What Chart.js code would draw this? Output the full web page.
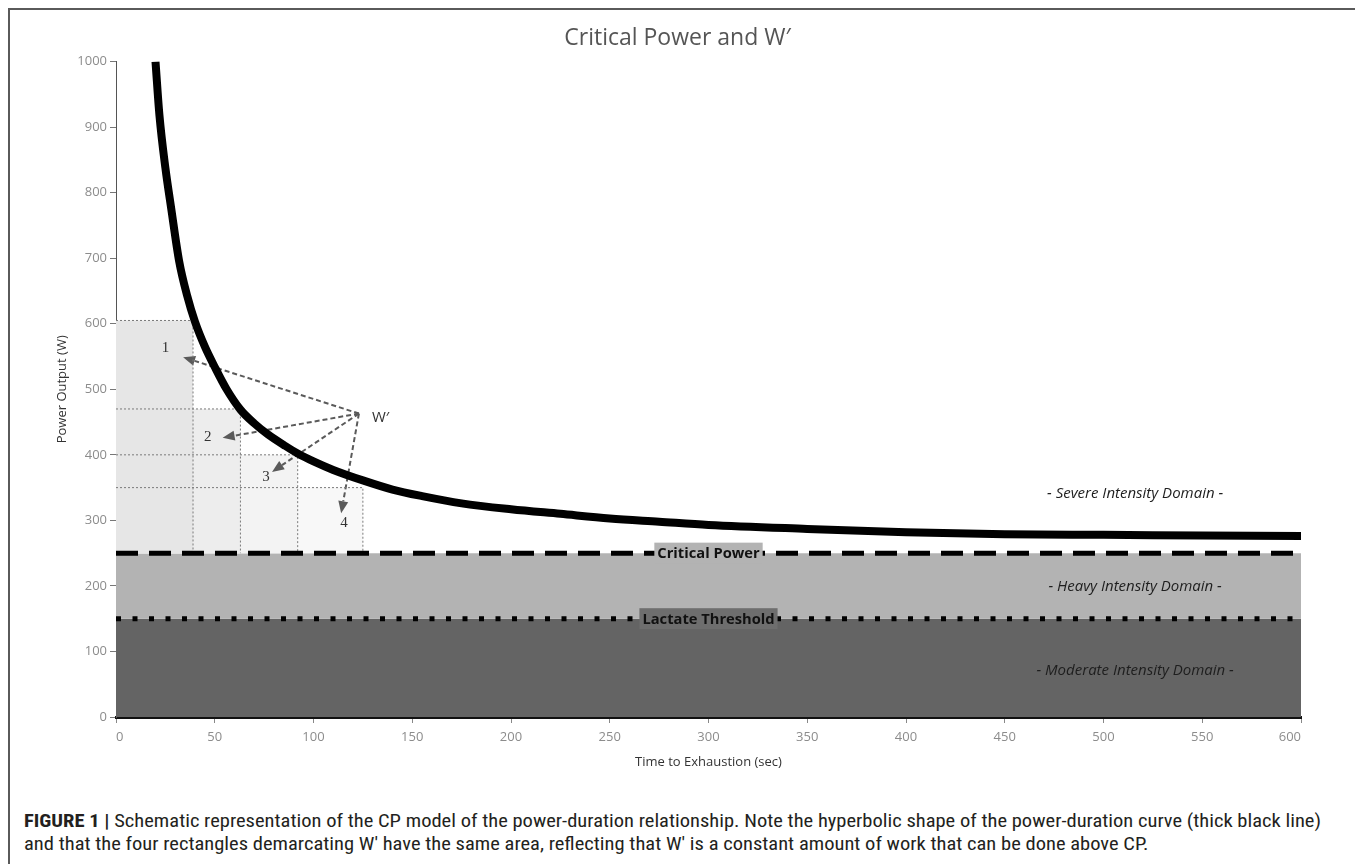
<!DOCTYPE html>
<html>
<head>
<meta charset="utf-8">
<title>Critical Power and W′</title>
<script src="https://cdn.jsdelivr.net/npm/chart.js@4.4.1/dist/chart.umd.min.js"></script>
<style>
    html, body { margin: 0; padding: 0; background: #fff; }
    body { width: 1355px; height: 864px; overflow: hidden; position: relative; }
    #frame { position: absolute; left: 8px; top: 8px; width: 1400px; height: 900px;
             border-top: 2px solid #5a5a5a; border-left: 2px solid #5a5a5a; }
    #wrap { position: absolute; left: 0; top: 0; width: 1355px; height: 780px; }
    #caption { position: absolute; left: 24px; top: 809px; white-space: nowrap;
               font-family: "Liberation Sans Narrow", "Roboto Condensed", Roboto, sans-serif;
               font-size: 18px; line-height: 23px; color: #231f20; transform-origin: 0 0; }
</style>
</head>
<body>
<div id="frame"></div>
<div id="wrap"><canvas id="cpChart" width="1355" height="780"></canvas></div>
<div id="caption">
    <span id="capLine1"><b>FIGURE 1 |</b> Schematic representation of the CP model of the power-duration relationship. Note the hyperbolic shape of the power-duration curve (thick black line)</span><br>
    <span id="capLine2">and that the four rectangles demarcating W′ have the same area, reflecting that W′ is a constant amount of work that can be done above CP.</span>
</div>
<script>
(function () {
    'use strict';

    var FONT = "'Open Sans', sans-serif";

    // power-duration curve
    var curveTime  = [20, 22, 25, 28, 32, 36, 40, 45, 50, 56, 63, 70, 77, 85, 92, 100, 110, 125, 140, 155, 175, 200, 225, 250, 275, 300, 350, 400, 450, 500, 550, 600];
    var curvePower = [1000, 918, 838, 775, 695, 643, 603, 565, 534, 500, 469, 448, 431, 415, 402, 390, 377, 361, 347, 337, 326, 317, 310, 303, 298, 293, 287, 282, 279, 278, 277, 276];

    var criticalPower = 250;
    var lactateThreshold = 150;
    var timeMin = 0, timeMax = 600;

    // the four W' rectangles (width in sec, height in W)
    var rectTime  = [39, 63, 92, 125];
    var rectPower = [605, 470, 400, 350];
    var rectShades = ['#e6e6e6', '#ededed', '#f3f3f3', '#f8f8f8'];

    // W' annotation
    var wLabel = 'W′';
    var wOriginTime = 123, wOriginPower = 463;
    var wLabelTime = 134, wLabelPower = 457;
    var arrowLabels = ['1', '2', '3', '4'];
    var arrowTipTime  = [34, 54, 79, 114];
    var arrowTipPower = [549, 426, 374, 311];
    var numberTime  = [25, 46.5, 76, 115.5];
    var numberPower = [563, 427, 366, 296];

    // domain texts
    var domainNames = ['- Severe Intensity Domain -', '- Heavy Intensity Domain -', '- Moderate Intensity Domain -'];
    var domainTime = 516;
    var domainPower = [340, 199, 70];
    var thresholdNames = ['Critical Power', 'Lactate Threshold'];
    var thresholdLabelTime = 300;

    function pts(xs, ys) {
        return xs.map(function (x, i) { return { x: x, y: ys[i] }; });
    }

    function flat(y) {
        return [{ x: timeMin, y: y }, { x: timeMax, y: y }];
    }

    var datasets = [
        {
            label: 'Power-duration curve',
            data: pts(curveTime, curvePower),
            borderColor: '#000',
            borderWidth: 8,
            pointRadius: 0,
            cubicInterpolationMode: 'monotone',
            fill: false,
            order: 0
        },
        {
            label: 'Critical Power',
            data: flat(criticalPower),
            borderColor: '#000',
            borderWidth: 5,
            borderDash: [22, 11],
            pointRadius: 0,
            fill: false,
            order: 1
        },
        {
            label: 'Lactate Threshold',
            data: flat(lactateThreshold),
            borderColor: '#000',
            borderWidth: 5,
            borderDash: [5, 11.5],
            pointRadius: 0,
            fill: false,
            order: 1
        },
        {
            label: 'Heavy',
            data: flat(criticalPower),
            borderWidth: 0,
            borderColor: 'rgba(0,0,0,0)',
            backgroundColor: '#b3b3b3',
            pointRadius: 0,
            fill: { value: lactateThreshold },
            order: 20
        },
        {
            label: 'Moderate',
            data: flat(lactateThreshold),
            borderWidth: 0,
            borderColor: 'rgba(0,0,0,0)',
            backgroundColor: '#646464',
            pointRadius: 0,
            fill: 'origin',
            order: 20
        }
    ];

    rectTime.forEach(function (t, i) {
        datasets.push({
            label: 'W\' rectangle ' + (i + 1),
            data: [{ x: 0, y: rectPower[i] }, { x: t, y: rectPower[i] }, { x: t, y: criticalPower }],
            borderColor: '#7a7a7a',
            borderWidth: 1,
            borderDash: [2, 2],
            backgroundColor: rectShades[i],
            pointRadius: 0,
            fill: { value: criticalPower },
            order: 10 + i
        });
    });

    function arrow(ctx, x0, y0, x1, y1) {
        var ang = Math.atan2(y1 - y0, x1 - x0);
        var head = 12, half = 5;
        var bx = x1 - Math.cos(ang) * head, by = y1 - Math.sin(ang) * head;
        ctx.save();
        ctx.strokeStyle = '#5a5a5a';
        ctx.fillStyle = '#5a5a5a';
        ctx.lineWidth = 2;
        ctx.setLineDash([5, 3]);
        ctx.beginPath();
        ctx.moveTo(x0, y0);
        ctx.lineTo(bx, by);
        ctx.stroke();
        ctx.setLineDash([]);
        ctx.beginPath();
        ctx.moveTo(x1, y1);
        ctx.lineTo(bx + Math.sin(ang) * half, by - Math.cos(ang) * half);
        ctx.lineTo(bx - Math.sin(ang) * half, by + Math.cos(ang) * half);
        ctx.closePath();
        ctx.fill();
        ctx.restore();
    }

    var annotations = {
        id: 'cpAnnotations',
        beforeDatasetsDraw: function (chart) {
            var ctx = chart.ctx, xs = chart.scales.x, ys = chart.scales.y;
            var ox = xs.getPixelForValue(wOriginTime), oy = ys.getPixelForValue(wOriginPower);
            arrowTipTime.forEach(function (t, i) {
                arrow(ctx, ox, oy, xs.getPixelForValue(t), ys.getPixelForValue(arrowTipPower[i]));
            });
            ctx.save();
            ctx.fillStyle = '#333';
            ctx.textAlign = 'center';
            ctx.textBaseline = 'middle';
            ctx.font = "15px 'Liberation Serif', serif";
            arrowLabels.forEach(function (lab, i) {
                ctx.fillText(lab, xs.getPixelForValue(numberTime[i]), ys.getPixelForValue(numberPower[i]));
            });
            ctx.font = '15px ' + FONT;
            ctx.fillText(wLabel, xs.getPixelForValue(wLabelTime), ys.getPixelForValue(wLabelPower));
            ctx.restore();
        },
        afterDatasetsDraw: function (chart) {
            var ctx = chart.ctx, xs = chart.scales.x, ys = chart.scales.y;
            ctx.save();
            ctx.textAlign = 'center';
            ctx.textBaseline = 'middle';

            ctx.font = 'bold 14.7px ' + FONT;
            var boxFill = ['#b3b3b3', '#6e6e6e'];
            [criticalPower, lactateThreshold].forEach(function (p, i) {
                var cx = xs.getPixelForValue(thresholdLabelTime), cy = ys.getPixelForValue(p);
                var w = ctx.measureText(thresholdNames[i]).width + 6;
                ctx.fillStyle = boxFill[i];
                ctx.fillRect(cx - w / 2, cy - 10.5, w, 21);
                ctx.fillStyle = '#111';
                ctx.fillText(thresholdNames[i], cx, cy + 1);
            });

            ctx.font = 'italic 15px ' + FONT;
            ctx.fillStyle = '#1e1e1e';
            domainNames.forEach(function (name, i) {
                ctx.fillText(name, xs.getPixelForValue(domainTime), ys.getPixelForValue(domainPower[i]));
            });
            ctx.restore();
        }
    };

    new Chart(document.getElementById('cpChart'), {
        type: 'line',
        data: { datasets: datasets },
        plugins: [annotations],
        options: {
            responsive: false,
            animation: false,
            events: [],
            layout: { padding: { left: 54, right: 54, top: 0, bottom: 0 } },
            plugins: {
                legend: { display: false },
                tooltip: { enabled: false },
                filler: { drawTime: 'beforeDatasetsDraw' },
                title: {
                    display: true,
                    text: 'Critical Power and W′',
                    color: '#555',
                    font: { family: FONT, size: 23, weight: 'normal' },
                    padding: { top: 25, bottom: 9 }
                }
            },
            scales: {
                x: {
                    type: 'linear',
                    min: timeMin,
                    max: timeMax,
                    afterFit: function (s) { s.height = 63; },
                    ticks: {
                        stepSize: 50,
                        align: 'inner',
                        padding: 6,
                        color: '#8c8c8c',
                        font: { family: FONT, size: 13 }
                    },
                    grid: { drawOnChartArea: false, drawTicks: true, tickLength: 6, color: '#888' },
                    border: { color: '#111', width: 3 },
                    title: {
                        display: true,
                        text: 'Time to Exhaustion (sec)',
                        color: '#333',
                        font: { family: FONT, size: 13 },
                        padding: { top: 0, bottom: 10 }
                    }
                },
                y: {
                    min: 0,
                    max: 1000,
                    afterFit: function (s) { s.width = 62; },
                    ticks: {
                        stepSize: 100,
                        padding: 3,
                        color: '#8c8c8c',
                        font: { family: FONT, size: 13 },
                        callback: function (v) { return String(v); }
                    },
                    grid: { drawOnChartArea: false, drawTicks: true, tickLength: 6, color: '#777' },
                    border: { color: '#555', width: 1 },
                    title: {
                        display: true,
                        text: 'Power Output (W)',
                        color: '#333',
                        font: { family: FONT, size: 13 },
                        padding: { top: 0, bottom: 0 }
                    }
                }
            }
        }
    });

    // fit the caption's first line to the figure width
    var cap = document.getElementById('caption');
    var w1 = document.getElementById('capLine1').getBoundingClientRect().width;
    if (w1 > 0) cap.style.transform = 'scaleX(' + (1297 / w1) + ')';
})();
</script>
</body>
</html>
